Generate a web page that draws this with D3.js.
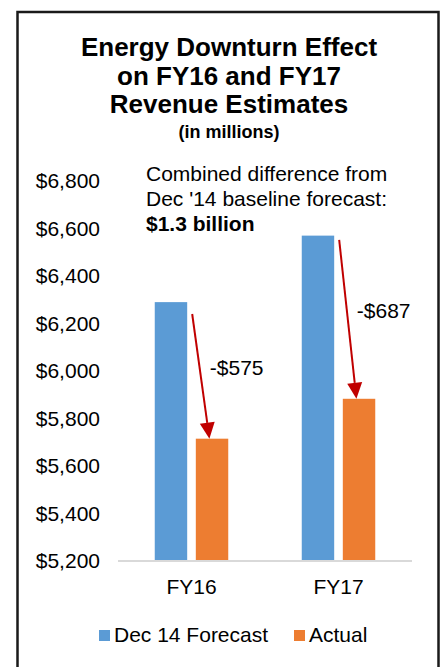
<!DOCTYPE html>
<html>
<head>
<meta charset="utf-8">
<script src="https://cdn.jsdelivr.net/npm/d3@7"></script>
<style>
  body { margin: 0; background: #fff; }
  text { font-family: "Liberation Sans", Arial, sans-serif; fill: #000; }
</style>
</head>
<body>
<svg width="445" height="667"></svg>
<script>
const years = ["FY16", "FY17"];
const seriesNames = ["Dec 14 Forecast", "Actual"];
const forecast = [6290, 6570];
const actual = [5715, 5883];
const arrowFrom = [6240, 6552];
const yTicks = [5200, 5400, 5600, 5800, 6000, 6200, 6400, 6600, 6800];
const titleLines = ["Energy Downturn Effect", "on FY16 and FY17", "Revenue Estimates"];
const noteLines = ["Combined difference from", "Dec '14 baseline forecast:"];
const noteBold = "$1.3 billion";

const colors = { "Dec 14 Forecast": "#5B9BD5", "Actual": "#ED7D31" };
const arrowColor = "#C00000";

const svg = d3.select("svg");

// outer frame (bottom edge runs past the window)
svg.append("rect")
  .attr("x", 17.5).attr("y", 12)
  .attr("width", 421).attr("height", 700)
  .attr("fill", "none")
  .attr("stroke", "#1a1a1a")
  .attr("stroke-width", 2.5);

// title
const title = svg.append("text").attr("text-anchor", "middle")
  .attr("font-weight", "bold").attr("font-size", 26);
titleLines.forEach((t, i) => {
  title.append("tspan").attr("x", 229).attr("y", 56 + i * 28.5).text(t);
});
svg.append("text").attr("text-anchor", "middle")
  .attr("x", 229).attr("y", 138)
  .attr("font-weight", "bold").attr("font-size", 18)
  .text("(in millions)");

const y = d3.scaleLinear().domain([5200, 6800]).range([561, 181]);
const x0 = d3.scaleBand().domain(years).range([118, 412])
  .paddingInner(0.5).paddingOuter(0.25);
const x1 = d3.scaleBand().domain(seriesNames).range([0, x0.bandwidth()])
  .paddingInner(0.21);

// y axis labels, no line
const yAxis = d3.axisLeft(y)
  .tickValues(yTicks)
  .tickSize(0)
  .tickPadding(0)
  .tickFormat(d => "$" + d3.format(",")(d));
const yg = svg.append("g").attr("transform", "translate(100,0)").call(yAxis);
yg.select(".domain").remove();
yg.selectAll("text").attr("font-size", 21).attr("fill", "#000")
  .attr("font-family", "Liberation Sans, Arial, sans-serif");

// bars
const rows = years.map((yr, i) => ({ year: yr, values: [
  { name: seriesNames[0], value: forecast[i] },
  { name: seriesNames[1], value: actual[i] }
] }));

const groups = svg.append("g").selectAll("g").data(rows).join("g")
  .attr("transform", d => `translate(${x0(d.year)},0)`);
groups.selectAll("rect").data(d => d.values).join("rect")
  .attr("x", d => x1(d.name))
  .attr("width", x1.bandwidth())
  .attr("y", d => y(d.value))
  .attr("height", d => y(5200) - y(d.value))
  .attr("fill", d => colors[d.name]);

// baseline
svg.append("line")
  .attr("x1", 118).attr("x2", 412)
  .attr("y1", y(5200)).attr("y2", y(5200))
  .attr("stroke", "#d9d9d9").attr("stroke-width", 2);

// x axis labels
const xAxis = d3.axisBottom(x0).tickSize(0).tickPadding(0);
const xg = svg.append("g").attr("transform", `translate(0,${594})`).call(xAxis);
xg.select(".domain").remove();
xg.selectAll("text").attr("font-size", 21).attr("fill", "#000").attr("dy", 0)
  .attr("font-family", "Liberation Sans, Arial, sans-serif");

// arrows and differences
const bw = x1.bandwidth();
years.forEach((yr, i) => {
  const sx = x0(yr) + x1(seriesNames[0]) + bw + 5;
  const sy = y(arrowFrom[i]);
  const ex = x0(yr) + x1(seriesNames[1]) + bw * 0.42;
  const ey = y(actual[i]);
  const ang = Math.atan2(ey - sy, ex - sx);
  const headLen = 16, headHalf = 7.5;
  const bx = ex - headLen * Math.cos(ang), by = ey - headLen * Math.sin(ang);
  const px = -Math.sin(ang) * headHalf, py = Math.cos(ang) * headHalf;
  svg.append("line")
    .attr("x1", sx).attr("y1", sy).attr("x2", bx).attr("y2", by)
    .attr("stroke", arrowColor).attr("stroke-width", 2);
  svg.append("path")
    .attr("d", d3.line()([[ex, ey], [bx + px, by + py], [bx - px, by - py]]) + "Z")
    .attr("fill", arrowColor);
  svg.append("text")
    .attr("x", x0(yr) + x1(seriesNames[1]) + 14)
    .attr("y", (sy + ey) / 2 - 1)
    .attr("font-size", 21)
    .text("-$" + d3.format(",")(forecast[i] - actual[i]));
});

// note
const note = svg.append("text").attr("font-size", 21);
noteLines.forEach((t, i) => {
  note.append("tspan").attr("x", 146).attr("y", 181 + i * 24.7).text(t);
});
note.append("tspan").attr("x", 146).attr("y", 230.5)
  .attr("font-weight", "bold").text(noteBold);

// legend
const legend = svg.append("g");
const legendX = [99, 294];
seriesNames.forEach((s, i) => {
  legend.append("rect").attr("x", legendX[i]).attr("y", 630)
    .attr("width", 11).attr("height", 11).attr("fill", colors[s]);
  legend.append("text").attr("x", legendX[i] + 15).attr("y", 641.5)
    .attr("font-size", 21).text(s);
});
</script>
</body>
</html>
